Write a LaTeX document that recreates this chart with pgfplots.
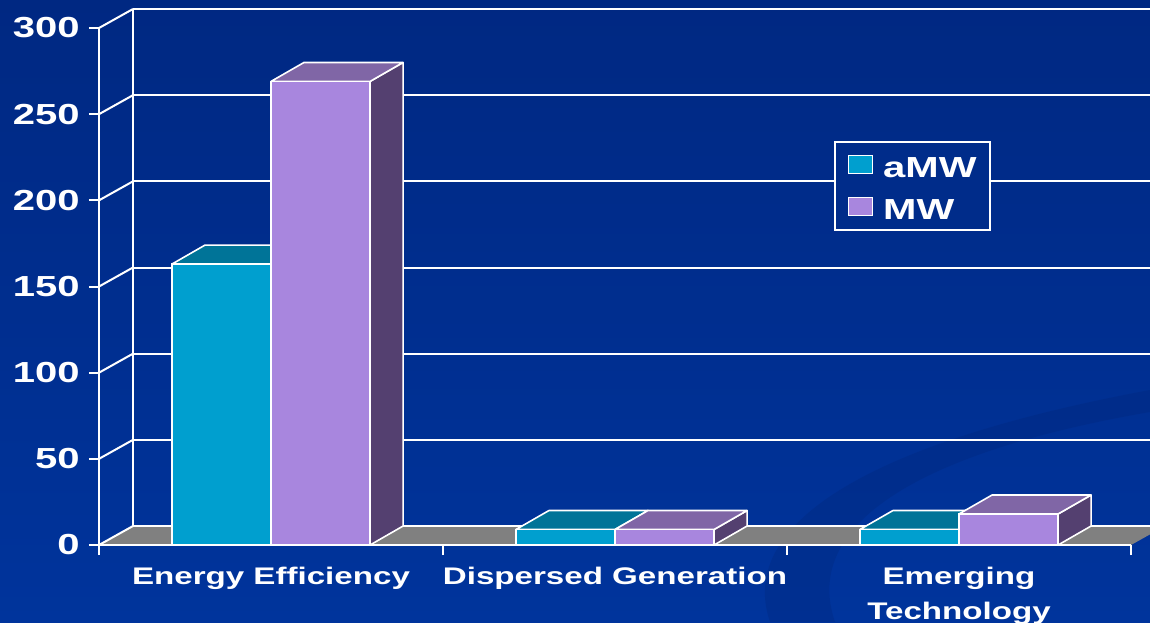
\documentclass[border=0pt]{standalone}
\usepackage{pgfplots}
\pgfplotsset{compat=1.18}
\usepackage{pgfplotstable}
\usepackage{fontspec}
\setmainfont{Liberation Sans}[FakeStretch=1.38]

\definecolor{bgtop}{RGB}{0,40,130}
\definecolor{bgbot}{RGB}{0,52,156}
\definecolor{bglegend}{RGB}{0,44,138}
\definecolor{swoosh}{RGB}{0,38,120}
\definecolor{amwfront}{RGB}{0,159,207}
\definecolor{amwtop}{RGB}{0,116,152}
\definecolor{amwside}{RGB}{0,84,112}
\definecolor{mwfront}{RGB}{168,134,222}
\definecolor{mwtop}{RGB}{128,102,166}
\definecolor{mwside}{RGB}{84,64,112}
\definecolor{floorgray}{RGB}{128,128,128}

% capacity by resource type
\pgfplotstableread{
cat aMW MW
0   163 269
1   9   9
2   9   18
}\energy

% bar geometry in axis units: width, depth offset in x and in y
\newcommand\bw{0.288}
\newcommand\bdx{0.0959}
\newcommand\bdy{11.0}

% top and side faces of one series; #1 column, #2 left offset from
% category centre, #3 top colour, #4 side colour
\newcommand\barcaps[4]{%
  \pgfplotsforeachungrouped \i in {0,1,2}{%
    \pgfplotstablegetelem{\i}{#1}\of\energy
    \pgfmathsetmacro\v{\pgfplotsretval}%
    \pgfmathsetmacro\xa{\i+0.5+(#2)}%
    \pgfmathsetmacro\xb{\xa+\bw}%
    \pgfmathsetmacro\xc{\xa+\bdx}%
    \pgfmathsetmacro\xd{\xb+\bdx}%
    \pgfmathsetmacro\vt{\v+\bdy}%
    \edef\cmd{%
      \noexpand\addplot[forget plot, draw=white, line width=0.8pt, line join=round, fill=#4]
        coordinates {(\xb,0) (\xd,\bdy) (\xd,\vt) (\xb,\v)} -- cycle;
      \noexpand\addplot[forget plot, draw=white, line width=0.8pt, line join=round, fill=#3]
        coordinates {(\xa,\v) (\xc,\vt) (\xd,\vt) (\xb,\v)} -- cycle;
    }\cmd
  }}

\begin{document}
\begin{tikzpicture}
% slide background
\shade[top color=bgtop, bottom color=bgbot] (-49.5pt,-38.5pt) rectangle (525.5pt,272.5pt);
\begin{scope}[x=0.5pt, y=-0.5pt, shift={(-49.5pt,272.5pt)}]
  \coordinate (TL) at (0,0);
  \coordinate (BR) at (1150,622);
  % decorative swoosh
  \fill[swoosh, opacity=0.3] (770,622) .. controls (735,520) and (880,440) .. (1150,390)
        -- (1150,412) .. controls (930,450) and (800,520) .. (835,622) -- cycle;
  % floor
  \fill[floorgray] (99,545) -- (133,526) -- (1165,526) -- (1131,545) -- cycle;
  % back wall grid and side wall lines (1.72333 px per unit)
  \foreach \v in {0,50,...,300}{
    \pgfmathsetmacro\yb{526-\v*1.72333}
    \pgfmathsetmacro\yf{545-\v*1.72333}
    \draw[white, line width=1pt] (133,\yb) -- (1160,\yb);
    \draw[white, line width=1pt] (99,\yf) -- (133,\yb);
  }
  \draw[white, line width=1pt] (133,526) -- (133,9);
\end{scope}

\begin{axis}[
  at={(0pt,0pt)}, anchor=south west,
  scale only axis, width=516pt, height=258.5pt,
  xmin=0, xmax=3, ymin=0, ymax=300,
  clip=false,
  axis x line*=bottom, axis y line*=left,
  axis line style={white, line width=1pt},
  tick align=outside, major tick length=5pt,
  tick style={white, line width=1pt},
  /pgf/number format/assume math mode=true,
  ytick={0,50,...,300},
  yticklabel style={font=\fontsize{14.5}{17}\selectfont\bfseries, text=white,
    inner sep=0pt, anchor=east, xshift=-4.5pt},
  xtick={0,1,2,3}, xticklabels={},
  extra x ticks={0.5,1.5,2.5},
  extra x tick labels={Energy Efficiency,Dispersed Generation,{Emerging\\Technology}},
  extra x tick style={major tick length=0pt,
    xticklabel style={font=\fontsize{12}{17.5}\selectfont\bfseries, text=white,
      align=center, anchor=north, inner sep=0pt, yshift=-11pt}},
  legend style={at={(axis cs:2.1366,234.4)}, anchor=north west,
    draw=white, line width=1pt, fill=bglegend, text=white,
    font=\fontsize{14.5}{17}\selectfont\bfseries,
    inner xsep=6.5pt, inner ysep=5pt,
    nodes={inner sep=0pt, text height=12.9pt, text depth=0pt},
    row sep=8.1pt, column sep=5pt},
  legend cell align=left,
]
\barcaps{aMW}{-\bw}{amwtop}{amwside}
\addplot[ybar, forget plot, bar width=0.288, bar shift=-0.144,
  fill=amwfront, draw=white, line width=0.8pt]
  table[x expr=\thisrow{cat}+0.5, y=aMW] {\energy};
\barcaps{MW}{0}{mwtop}{mwside}
\addplot[ybar, forget plot, bar width=0.288, bar shift=0.144,
  fill=mwfront, draw=white, line width=0.8pt]
  table[x expr=\thisrow{cat}+0.5, y=MW] {\energy};

\addlegendimage{legend image code/.code={\filldraw[draw=white, line width=0.6pt, fill=amwfront] (0pt,-4.25pt) rectangle (12pt,4.75pt);}}
\addlegendentry{aMW}
\addlegendimage{legend image code/.code={\filldraw[draw=white, line width=0.6pt, fill=mwfront] (0pt,-4.25pt) rectangle (12pt,4.75pt);}}
\addlegendentry{MW}
\end{axis}
\pgfresetboundingbox
\path[use as bounding box] (TL) rectangle (BR);
\end{tikzpicture}
\end{document}
